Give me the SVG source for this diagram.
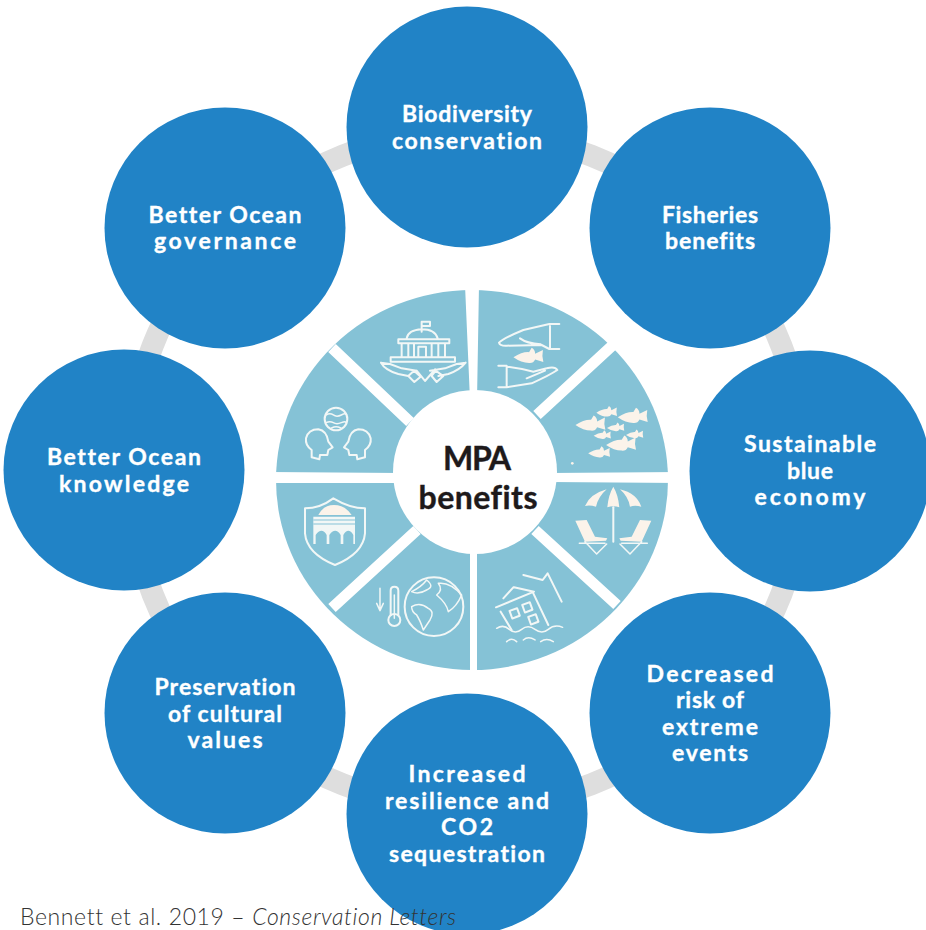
<svg xmlns="http://www.w3.org/2000/svg" width="926" height="930" viewBox="0 0 926 930">
<style>
text{font-variant-ligatures:none;font-family:"Lato","Liberation Sans",sans-serif}
.n{fill:#2183c6}
.t{font-weight:700;font-size:23px;fill:#fff;stroke:#fff;stroke-width:.35;text-anchor:middle}
.c{font-weight:700;font-size:32px;fill:#1e1a1b;stroke:#1e1a1b;stroke-width:.4;text-anchor:middle}
.ic{fill:none;stroke:#f2f7f6;stroke-width:6;stroke-linecap:round;stroke-linejoin:round}
.th{stroke-width:4.5}
.cr{fill:#fbf3ea;stroke:none}
.band{fill:#fff}
</style>
<defs>
<g id="fish"><path d="M-32,0Q-12,-13 4,-12L10,-22Q18,-18 18,-8L36,-17Q33,-3 37,11L18,5Q14,14 4,13Q-14,13 -32,0Z" class="cr"/></g>
</defs>
<rect width="926" height="930" fill="#fff"/>
<g id="connectors"><circle cx="467" cy="470" r="338" fill="none" stroke="#dedede" stroke-width="22"/></g>
<g id="wheel">
<ellipse cx="472" cy="480" rx="196" ry="190" fill="#85c2d6"/>
<path class="band" d="M465,285H479L477,400H470ZM470,550H477V680H470ZM270,472L400,473V483L270,483ZM550,473L680,472V483L550,482Z"/>
<path d="M537,415L614,344M332,348L410,422M332,608L417,530M535,530L617,605" stroke="#fff" stroke-width="11"/>
<circle cx="475" cy="472" r="82" fill="#fff"/>
</g>
<g id="center">
<text class="c" x="477" y="470" textLength="68">MPA</text>
<text class="c" x="478" y="509" textLength="119">benefits</text>
</g>
<g id="icon-governance" transform="translate(270,300) scale(.3333)" class="ic">
<path d="M455,95V65H480V78H457M410,115Q415,90 455,88Q495,88 503,115M385,118H538V130H385ZM395,130V172M415,130V172M432,130V172M445,172V140H468V172M485,130V172M505,130V172M525,130V172M362,172H555V185H362Z"/>
<path d="M333,188Q345,210 385,222L415,228M333,188L360,192L395,205L440,212M587,188Q570,210 535,222L505,228M587,188L560,192L525,205L480,212M440,212L465,243L495,208M415,228L432,212L452,230L433,246ZM485,228L497,212L520,228L500,246Z"/>
</g>
<g id="icon-knowledge" transform="translate(270,300) scale(.3333)" class="ic">
<circle cx="198" cy="357" r="34"/>
<path class="th" d="M168,345Q180,338 190,345T214,345T230,345M168,368Q180,362 190,368T214,368T228,368M185,384Q198,376 212,384"/>
<path d="M125,472V450Q105,435 108,415Q115,388 145,388Q170,392 175,425L188,442L175,450L172,465H150L148,478ZM285,472V450Q305,435 302,415Q295,388 265,388Q240,392 235,425L222,442L235,450L238,465H260L262,478Z"/>
</g>
<g id="icon-fisheries-hands" transform="translate(470,300) scale(.3333)">
<g class="ic"><path d="M268,72H238L160,90Q100,115 87,128Q90,138 110,137L215,135L238,147H268M240,78V145M150,115Q170,130 212,133"/>
<path d="M85,197H110V262H85M110,262L185,250Q240,225 262,210Q255,198 230,205L190,215Q150,205 110,200M170,235Q195,225 225,212"/></g>
<use href="#fish" transform="translate(172,172) scale(1.3)"/>
</g>
<g id="icon-fish" transform="translate(470,300) scale(.3333)">
<use href="#fish" transform="translate(358,375) scale(1.3)"/>
<use href="#fish" transform="translate(408,338) scale(.9)"/>
<use href="#fish" transform="translate(485,352) scale(1.3)"/>
<use href="#fish" transform="translate(435,384) scale(.75)"/>
<use href="#fish" transform="translate(395,407) scale(.75)"/>
<use href="#fish" transform="translate(492,405) scale(.75)"/>
<use href="#fish" transform="translate(450,435) scale(1.3)"/>
<use href="#fish" transform="translate(385,460) scale(.95)"/>
<circle cx="307" cy="490" r="4" class="cr"/>
</g>
<g id="icon-beach" transform="translate(470,470) scale(.3333)">
<path class="cr" d="M345,108Q360,72 410,58Q385,80 378,110Q360,105 345,108ZM412,112Q415,75 430,50Q445,75 448,112Q430,106 412,112ZM480,110Q475,80 450,58Q500,70 514,110Q495,105 480,110Z"/>
<path class="ic" d="M430,112V215"/>
<path class="cr" d="M316,152L350,150L375,200L412,205L408,212L345,215ZM544,152L510,150L485,200L448,205L452,212L515,215Z"/>
<path class="ic th" d="M328,220H405M380,252L410,222M345,215L380,252M532,220H455M480,252L450,222M515,215L480,252"/>
</g>
<g id="icon-risk" transform="translate(470,470) scale(.3333)" class="ic">
<path d="M160,315L218,330L233,310L275,395M132,352L192,365L78,412M100,385L130,352M92,425L125,480M190,370L235,465"/>
<rect x="122" y="418" width="24" height="24" transform="rotate(-20 134 430)"/>
<rect x="160" y="400" width="24" height="24" transform="rotate(-20 172 412)"/>
<rect x="178" y="436" width="24" height="24" transform="rotate(-20 190 448)"/>
<path class="th" d="M80,475Q100,462 118,478T155,478T195,478T235,478T278,472M110,515Q125,500 140,515M160,510Q175,497 195,510M212,515Q230,502 250,515"/>
</g>
<g id="icon-heritage" transform="translate(270,480) scale(.3333)">
<path class="ic" d="M105,85Q150,85 190,55Q240,85 285,85L285,160Q280,220 195,255Q110,220 105,160Z"/>
<path class="cr" d="M145,105Q160,75 192,75Q225,75 245,105Z"/>
<path d="M130,110H255V192H130Z" fill="#f2f7f6"/>
<path d="M137,195V165Q155,140 170,165V195ZM178,195V165Q196,140 212,165V195ZM220,195V165Q235,140 250,165V195Z" fill="#85c2d6"/>
<path d="M130,120H255M130,132H255" stroke="#85c2d6" stroke-width="3"/>
</g>
<g id="icon-climate" transform="translate(270,480) scale(.3333)" class="ic">
<path class="th" d="M330,325V390M320,370L330,392L340,370"/>
<path d="M362,405V332Q362,320 373,320Q385,320 385,332V405"/>
<circle cx="373" cy="420" r="18"/>
<path class="th" d="M373,345V415"/>
<circle cx="492" cy="380" r="88"/>
<path class="th" d="M470,300Q455,320 425,335Q445,345 470,330Q495,320 470,300ZM505,310Q520,330 500,345Q530,370 535,395Q560,380 575,345Q540,305 505,310ZM425,380Q450,365 475,385Q495,395 480,420L460,450Q450,420 440,405Q425,395 425,380Z"/>
</g>
<g id="node-biodiversity"><circle class="n" cx="467" cy="127" r="120.5"/><text class="t" x="467" y="122" textLength="130">Biodiversity</text><text class="t" x="467" y="149" textLength="150">conservation</text></g>
<g id="node-fisheries"><circle class="n" cx="710" cy="228" r="120.5"/><text class="t" x="710" y="223" textLength="96">Fisheries</text><text class="t" x="710" y="249" textLength="90">benefits</text></g>
<g id="node-blue-economy"><circle class="n" cx="810" cy="471" r="120.5"/><text class="t" x="810" y="452" textLength="132">Sustainable</text><text class="t" x="810" y="479" textLength="46">blue</text><text class="t" x="810" y="505" textLength="111">economy</text></g>
<g id="node-extreme-events"><circle class="n" cx="710" cy="713" r="120.5"/><text class="t" x="710" y="682" textLength="127">Decreased</text><text class="t" x="710" y="708" textLength="68">risk of</text><text class="t" x="710" y="735" textLength="96">extreme</text><text class="t" x="710" y="761" textLength="76">events</text></g>
<g id="node-resilience"><circle class="n" cx="467" cy="814" r="120.5"/><text class="t" x="467" y="782" textLength="117">Increased</text><text class="t" x="467" y="809" textLength="164">resilience and</text><text class="t" x="467" y="835" textLength="52">CO2</text><text class="t" x="467" y="862" textLength="156">sequestration</text></g>
<g id="node-cultural"><circle class="n" cx="225" cy="713" r="120.5"/><text class="t" x="225" y="695" textLength="141">Preservation</text><text class="t" x="225" y="722" textLength="114">of cultural</text><text class="t" x="225" y="748" textLength="75">values</text></g>
<g id="node-knowledge"><circle class="n" cx="124" cy="470" r="120.5"/><text class="t" x="124" y="465" textLength="154">Better Ocean</text><text class="t" x="124" y="492" textLength="130">knowledge</text></g>
<g id="node-governance"><circle class="n" cx="225" cy="228" r="120.5"/><text class="t" x="225" y="223" textLength="153">Better Ocean</text><text class="t" x="225" y="249" textLength="142">governance</text></g>
<text id="credit" x="20" y="925" font-size="23" font-weight="300" fill="#333" textLength="436">Bennett et al. 2019 – <tspan font-style="italic">Conservation Letters</tspan></text>
</svg>
